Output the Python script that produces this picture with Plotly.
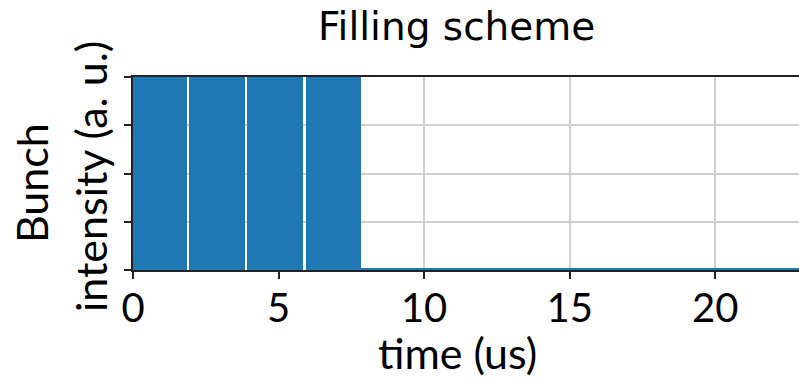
import numpy as np
import plotly.graph_objects as go

# Filling pattern: 4 batches of 72 bunches, 25 ns bunch spacing
batch_starts_us = [0.0, 2.0, 4.0, 6.0]
bunches_per_batch = 72
bunch_spacing_us = 0.025
bunch_intensity = 1.0
revolution_us = 23.05

x_ticks = [0, 5, 10, 15, 20]
y_ticks = [0, 0.25, 0.5, 0.75, 1.0]

bunch_t = np.concatenate([s + bunch_spacing_us * np.arange(bunches_per_batch)
                          for s in batch_starts_us])
bunch_i = np.full(bunch_t.size, bunch_intensity)

# empty buckets after the last batch up to the end of the turn
empty_t = [bunch_t[-1] + bunch_spacing_us, revolution_us]
empty_i = [0.0, 0.0]

W, H = 799, 381
L, R, T, B = 133, 0, 77, 111
pw, ph = W - L - R, H - T - B

def px_x(p):
    return (p - L) / pw

def px_y(p):
    return (H - B - p) / ph

tick_font = dict(family="Lato", size=40, color="black")
label_font = dict(family="Lato", size=43, color="black")
blue = "#1f77b4"

fig = go.Figure()
fig.add_trace(go.Bar(x=bunch_t, y=bunch_i, width=0.14,
                     marker=dict(color=blue, line=dict(width=0)),
                     hoverinfo="skip"))
fig.add_trace(go.Scatter(x=empty_t, y=empty_i, mode="lines",
                         line=dict(color=blue, width=4), hoverinfo="skip"))

fig.update_layout(
    width=W, height=H,
    margin=dict(l=L, r=R, t=T, b=B, pad=0),
    paper_bgcolor="white", plot_bgcolor="white",
    showlegend=False, bargap=0,
    font=tick_font,
)
fig.update_xaxes(
    range=[0, 22.88], tickvals=x_ticks, ticktext=[str(v) for v in x_ticks],
    showgrid=True, gridcolor="#cfcfcf", gridwidth=1.5,
    showline=True, linecolor="#222", linewidth=1.5, mirror=True,
    ticks="outside", ticklen=7, tickwidth=1.5, tickcolor="#222",
    tickfont=tick_font, ticklabelstandoff=-5, zeroline=False,
)
fig.update_yaxes(
    range=[0, 1], tickvals=y_ticks, showticklabels=False,
    showgrid=True, gridcolor="#cfcfcf", gridwidth=1.5,
    showline=True, linecolor="#222", linewidth=1.5, mirror=False,
    ticks="outside", ticklen=7, tickwidth=1.5, tickcolor="#222",
    zeroline=False,
)

fig.add_annotation(text="time (us)", xref="paper", yref="paper",
                   x=px_x(457), y=px_y(352), xanchor="center", yanchor="middle",
                   showarrow=False, font=label_font)
fig.add_annotation(text="Filling scheme", xref="paper", yref="paper",
                   x=px_x(456), y=px_y(27), xanchor="center", yanchor="middle",
                   showarrow=False,
                   font=dict(family="DejaVu Sans", size=39, color="black"))
fig.add_annotation(text="Bunch", xref="paper", yref="paper",
                   x=px_x(31), y=px_y(183), xanchor="center", yanchor="middle",
                   textangle=-90, showarrow=False, font=label_font)
fig.add_annotation(text="intensity (a. u.)", xref="paper", yref="paper",
                   x=px_x(90), y=px_y(177), xanchor="center", yanchor="middle",
                   textangle=-90, showarrow=False, font=label_font)

fig.write_html("out.html")
